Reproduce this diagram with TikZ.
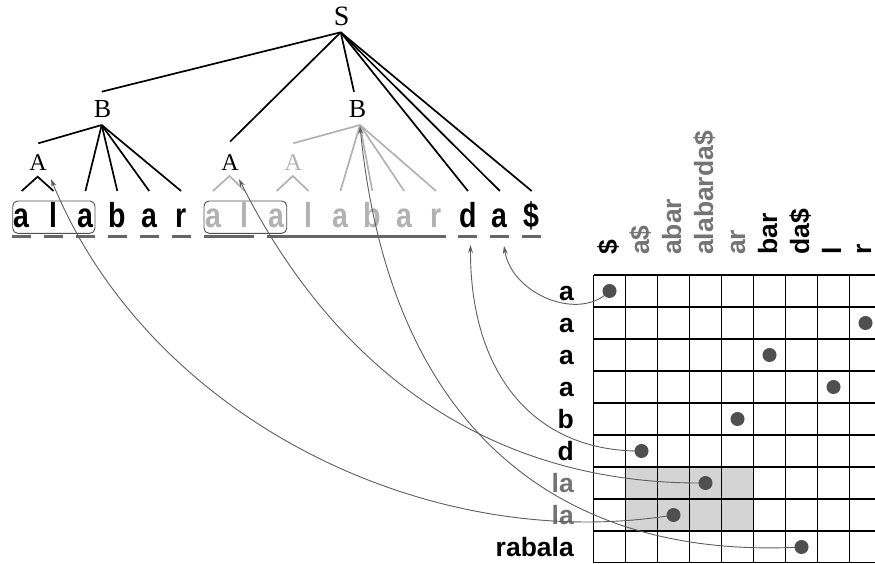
\documentclass[tikz,border=0pt]{standalone}
\usepackage{fontspec}
\setmainfont{Liberation Serif}
\newfontfamily\lsans{Liberation Sans}
\usetikzlibrary{arrows.meta}
\definecolor{tgray}{HTML}{B2B2B2}
\definecolor{agray}{HTML}{5E5E5E}
\definecolor{ugray}{HTML}{666666}
\definecolor{hgray}{HTML}{747474}
\definecolor{dotc}{HTML}{4F4F4F}
\definecolor{shadec}{HTML}{D4D4D4}
\definecolor{boxc}{HTML}{505050}
\begin{document}
\begin{tikzpicture}[x=1pt,y=-1pt,
  ntS/.style={inner sep=0pt, font=\fontsize{28}{28}\selectfont},
  ntB/.style={inner sep=0pt, font=\fontsize{26}{26}\selectfont},
  ntA/.style={inner sep=0pt, font=\fontsize{24}{24}\selectfont},
  leaf/.style={inner sep=0pt, anchor=base, font=\lsans\bfseries\fontsize{31}{31}\selectfont},
  rowl/.style={inner sep=0pt, anchor=base east, font=\lsans\bfseries\fontsize{26.5}{26.5}\selectfont},
  colh/.style={inner sep=0pt, anchor=base west, rotate=90, font=\lsans\bfseries\fontsize{26.5}{26.5}\selectfont},
  bl/.style={line width=1.7pt, black},
  gl/.style={line width=1.7pt, tgray},
  uline/.style={line width=2.4pt, ugray},
  lbox/.style={draw=boxc, line width=0.9pt, rounded corners=5pt},
  gridl/.style={line width=1.2pt, black},
  link/.style={line width=0.9pt, agray, -{Stealth[length=8pt,width=5pt]}},
  dotn/.style={circle, fill=dotc, minimum size=14pt, inner sep=0pt}
]
\useasboundingbox (0,0) rectangle (875,563);

% ---------- leaves ----------
\foreach \i/\t/\c in {0/a/black,1/l/black,2/a/black,3/b/black,4/a/black,5/r/black,
  6/a/tgray,7/l/tgray,8/a/tgray,9/l/tgray,10/a/tgray,11/b/tgray,12/a/tgray,13/r/tgray,
  14/d/black,15/a/black,16/\$/black}{
  \node[leaf,text=\c] (l\i) at ({21.7+31.875*\i},227) {\scalebox{0.92}[1.12]{\t}};
  \coordinate (t\i) at ({21.7+31.875*\i},191);
}
% underlines
\foreach \i in {0,1,2,3,4,5,14,15,16}{
  \draw[uline] ({21.7+31.875*\i-9.5},236.5) -- ({21.7+31.875*\i+9.5},236.5);
}
\draw[uline] (203.5,236.5) -- (254.3,236.5);
\draw[uline] (267.2,236.5) -- (445.6,236.5);
% boxes
\draw[lbox] (12.7,201) rectangle (95,233.3);
\draw[lbox] (204,201) rectangle (286.7,233.3);

% ---------- nonterminals ----------
\node[ntS] (S) at (341.7,16.7) {S};
\node[ntB] (BL) at (102.5,109) {B};
\node[ntB] (BR) at (357.5,109) {B};
\node[ntA] (AL) at (38,163) {A};
\node[ntA] (AM) at (230,163) {A};
\node[ntA,text=tgray] (AR) at (293.3,163) {A};

\coordinate (Sapex) at (340.7,32.3);
\coordinate (BLtop) at (101.7,91.7);
\coordinate (BRtop) at (354,91.7);
\coordinate (AMtop) at (230,141.7);
\coordinate (BLapex) at (101.7,125);
\coordinate (ALtop) at (38.3,143.3);
\coordinate (BRapex) at (360,125);
\coordinate (ARtop) at (293.3,143.3);
\coordinate (ALv) at (37.6,176.7);
\coordinate (AMv) at (229.5,176);
\coordinate (ARv) at (292.8,176);

\foreach \n in {BLtop,AMtop,BRtop,t14,t15,t16} \draw[bl] (Sapex) -- (\n);
\foreach \n in {ALtop,t2,t3,t4,t5} \draw[bl] (BLapex) -- (\n);
\foreach \n in {ARtop,t10,t11,t12,t13} \draw[gl] (BRapex) -- (\n);
\draw[bl] (t0) -- (ALv) -- (t1);
\draw[gl] (t6) -- (AMv) -- (t7);
\draw[gl] (t8) -- (ARv) -- (t9);

% ---------- matrix ----------
\fill[shadec] (625.5,467) rectangle (753.5,531);
\foreach \k in {0,...,8} \draw[gridl] (593.5,{275+32*\k}) -- (875,{275+32*\k});
\draw[gridl] (593.5,562.4) -- (875,562.4);
\foreach \k in {0,...,8} \draw[gridl] ({593.5+32*\k},275) -- ({593.5+32*\k},563);

% row labels
\foreach \r/\t/\c in {0/a/black,1/a/black,2/a/black,3/a/black,4/b/black,5/d/black,
  6/la/hgray,7/la/hgray,8/rabala/black}{
  \node[rowl,text=\c] (r\r) at (574,{291+32*\r+9.5}) {\t};
}
% column headers
\foreach \k/\t/\c/\dx in {0/\$/black/7.5,1/a\$/hgray/7.5,2/abar/hgray/7.5,3/alabarda\$/hgray/7.5,4/ar/hgray/7.5,
  5/bar/black/7.5,6/da\$/black/7.5,7/l/black/7.5,8/r/black/5.5}{
  \node[colh,text=\c] (c\k) at ({609.5+32*\k+\dx},255) {\t};
}

% dot centres
\foreach \r/\k in {0/0,1/8,2/5,3/7,4/4,5/1,6/3,7/2,8/6}{
  \coordinate (p\r) at ({609.5+32*\k},{291+32*\r});
}
% arrow targets
\coordinate (tip1) at (504,246);
\coordinate (tip2) at (470.5,245);
\coordinate (tip3) at (239,179);
\coordinate (tip4) at (51,179);
\coordinate (tip5) at (360,126);

\draw[link] (p0) .. controls (580,322) and (512,295) .. (tip1);
\draw[link] (p5) .. controls (535,452) and (470,375) .. (tip2);
\draw[link] (p6) .. controls (480,485) and (330,360) .. (tip3);
\draw[link] (p7) .. controls (430,555) and (150,420) .. (tip4);
\draw[link] (p8) .. controls (560,560) and (390,430) .. (tip5);

\foreach \r in {0,...,8} \node[dotn] (d\r) at (p\r) {};
\end{tikzpicture}
\end{document}
